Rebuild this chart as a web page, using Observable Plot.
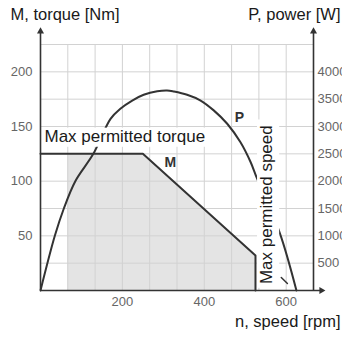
<!DOCTYPE html>
<html>
<head>
<meta charset="utf-8">
<script src="https://cdn.jsdelivr.net/npm/d3@7"></script>
<script src="https://cdn.jsdelivr.net/npm/@observablehq/plot@0.6"></script>
<style>
  html, body { margin: 0; padding: 0; background: #fff; }
  svg { display: block; }
</style>
</head>
<body>
<div id="chart"></div>
<script>
// ---- data ----
const speedTicks = [200, 400, 600];
const torqueTicks = [50, 100, 150, 200];
const powerTicks = [500, 1000, 1500, 2000, 2500, 3000, 3500, 4000];
const speedGrid = [0, 66.67, 133.33, 200, 266.67, 333.33, 400, 466.67, 533.33, 600, 666.67];
const torqueGrid = [0, 25, 50, 75, 100, 125, 150, 175, 200, 225];

// torque curve M
const torqueSpeed = [0, 250, 525, 525];
const torqueValues = [125, 125, 32, 0];
// shaded permitted area
const shadeSpeed = [66.67, 250, 525];
const shadeTorque = [125, 125, 32];

// power curve P (W)
const powerSpeed = [0, 35, 57, 85, 129, 171, 195, 224, 252, 285, 309, 326, 358, 391, 423, 456, 488, 513, 529, 584, 625];
const powerWatts = [0, 1000, 1500, 2000, 2500, 3140, 3325, 3475, 3580, 3645, 3660, 3640, 3580, 3475, 3295, 3050, 2715, 2350, 2045, 1060, 0];

// small stub near max speed
const stubSpeed = [588, 603];
const stubWatts = [238, 128];

const wattsPerNm = 20; // right axis ratio: 4000 W ↔ 200 Nm

// ---- layout constants ----
const xMax = 666.67, yMax = 225;
const arrowTop = 237, arrowRight = 686;
const ink = "#333";
const font = "Liberation Sans, Arial, Helvetica, sans-serif";

const torqueData = torqueSpeed.map((s, i) => ({s, m: torqueValues[i]}));
const shadeData = shadeSpeed.map((s, i) => ({s, m: shadeTorque[i]}));
const powerData = powerSpeed.map((s, i) => ({s, p: powerWatts[i] / wattsPerNm}));
const stubData = stubSpeed.map((s, i) => ({s, p: stubWatts[i] / wattsPerNm}));

const plot = Plot.plot({
  width: 342,
  height: 337,
  marginLeft: 40,
  marginRight: 29,
  marginTop: 44,
  marginBottom: 47,
  style: {fontFamily: font, fontSize: "13px", background: "#fff"},
  x: {domain: [0, xMax], axis: null},
  y: {domain: [0, yMax], axis: null},
  marks: [
    Plot.areaY(shadeData, {x: "s", y: "m", fill: "#e4e4e4"}),
    Plot.gridX(speedGrid, {stroke: "#d2d2d2", strokeOpacity: 1, strokeWidth: 1}),
    Plot.gridY(torqueGrid, {stroke: "#d2d2d2", strokeOpacity: 1, strokeWidth: 1}),
    Plot.line(powerData, {x: "s", y: "p", stroke: ink, strokeWidth: 2, curve: "catmull-rom"}),
    Plot.line(torqueData, {x: "s", y: "m", stroke: ink, strokeWidth: 2}),
    Plot.line(stubData, {x: "s", y: "p", stroke: ink, strokeWidth: 1.5}),
    // white label boxes
    Plot.rect([0], {x1: 0, x2: 412, y1: 131, y2: 148.5, fill: "#fff"}),
    Plot.rect([0], {x1: 530, x2: 584, y1: 2, y2: 156, fill: "#fff"}),
    Plot.text(["Max permitted torque"], {x: 0, y: 140.5, dx: 4, text: d => d, textAnchor: "start", lineAnchor: "middle", fontSize: 17, fill: "#1a1a1a"}),
    Plot.text(["Max permitted speed"], {x: 552, y: 78.5, text: d => d, rotate: -90, textAnchor: "middle", lineAnchor: "middle", fontSize: 17, fill: "#1a1a1a"}),
    // curve labels
    Plot.text(["M"], {x: 317, y: 116.8, text: d => d, fontSize: 14, fontWeight: "bold", fill: ink}),
    Plot.text(["P"], {x: 486, y: 158.6, text: d => d, fontSize: 14, fontWeight: "bold", fill: ink}),
    // axes lines with arrows
    Plot.ruleX([0, xMax], {y1: 0, y2: arrowTop, stroke: ink, strokeWidth: 1.6}),
    Plot.ruleY([0], {x1: 0, x2: arrowRight, stroke: ink, strokeWidth: 1.6}),
    Plot.dot([0, xMax], {x: d => d, y: arrowTop, symbol: "triangle", r: 2.6, fill: ink, stroke: null}),
    Plot.dot([0], {x: arrowRight, y: 0, symbol: "triangle", r: 2.6, rotate: 90, fill: ink, stroke: null}),
    // tick labels
    Plot.axisX(speedTicks, {anchor: "bottom", tickSize: 0, tickPadding: 6, fontSize: 13, color: "#666", label: null}),
    Plot.axisY(torqueTicks, {anchor: "left", tickSize: 0, tickPadding: 8, fontSize: 13, color: "#666", label: null}),
    Plot.axisY(powerTicks.map(p => p / wattsPerNm), {anchor: "right", tickSize: 0, tickPadding: 4, fontSize: 13, color: "#666", label: null, tickFormat: d => String(Math.round(d * wattsPerNm))}),
    // axis titles
    Plot.text(["M, torque [Nm]"], {frameAnchor: "top-left", dx: -30, dy: -25, text: d => d, textAnchor: "start", lineAnchor: "bottom", fontSize: 16.5, fill: "#1a1a1a"}),
    Plot.text(["P, power [W]"], {frameAnchor: "top-right", dx: 27, dy: -25, text: d => d, textAnchor: "end", lineAnchor: "bottom", fontSize: 16.5, fill: "#1a1a1a"}),
    Plot.text(["n, speed [rpm]"], {frameAnchor: "bottom-right", dx: 27, dy: 36, text: d => d, textAnchor: "end", lineAnchor: "bottom", fontSize: 16.5, fill: "#1a1a1a"})
  ]
});
document.getElementById("chart").appendChild(plot);
</script>
</body>
</html>
